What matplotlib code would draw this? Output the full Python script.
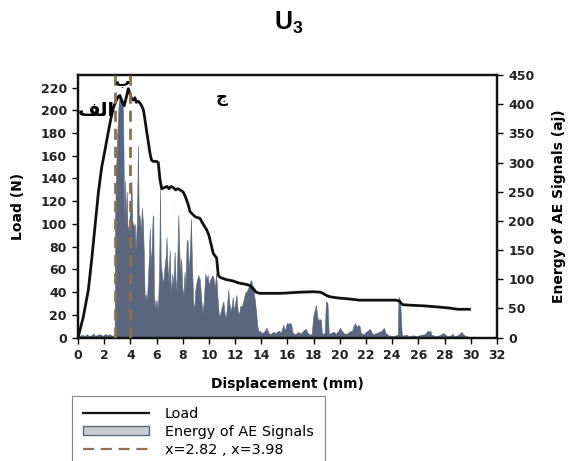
import matplotlib
matplotlib.use("Agg")
import matplotlib.pyplot as plt
from matplotlib.lines import Line2D
from matplotlib.patches import Patch

plt.rcParams["font.family"] = ["DejaVu Sans"]
plt.rcParams["mathtext.fontset"] = "custom"
plt.rcParams["mathtext.rm"] = "Liberation Sans"
plt.rcParams["mathtext.bf"] = "Liberation Sans:bold"

# Load-displacement curve
disp_load = [0, 0.4, 0.79, 1.04, 1.3, 1.55, 1.81, 2.06, 2.3, 2.5, 2.7, 2.9, 3.08, 3.2, 3.35,
             3.53, 3.7, 3.84, 3.95, 4.1, 4.22, 4.35, 4.45, 4.6, 4.75, 4.86, 5.0, 5.11,
             5.25, 5.37, 5.5, 5.62, 5.75, 6.0, 6.13, 6.25, 6.39, 6.6, 6.8, 6.95, 7.1,
             7.28, 7.45, 7.6, 7.8, 8.04, 8.2, 8.42, 8.55, 8.8, 9.0, 9.31, 9.5, 9.82,
             10.0, 10.33, 10.59, 10.71, 10.85, 11.1, 11.35, 11.8, 12.3, 12.8, 13.1,
             13.4, 13.6, 13.89, 14.5, 15.5, 16.9, 17.96, 18.5, 18.7, 19.0, 19.24, 19.8,
             20.76, 21.5, 22.5, 23.5, 24.3, 24.55, 24.8, 25.5, 26.4, 27.5, 28.4, 29.0, 29.9]
load = [0, 18, 42, 68, 98, 127, 150, 165, 180, 192, 202, 208, 212, 213, 208,
        204, 212, 219, 215, 210, 209, 211, 207, 208, 206, 204, 200, 192,
        181, 172, 162, 156, 155, 155, 154, 140, 131, 132, 133, 131, 133,
        132, 130, 131, 130, 128, 124, 117, 111, 108, 106, 105, 101, 95,
        90, 74, 70, 55, 53, 52, 51, 50, 48, 47, 46,
        43, 40, 39, 39, 39, 40, 40.4, 40, 39, 37, 36, 35,
        34, 33, 33, 33, 33, 32, 29, 28.5, 28, 27, 26, 25, 25]

# Acoustic emission energy
disp_energy = [0.0, 0.1, 0.3, 0.5, 0.7, 0.8, 1.0, 1.2, 1.3, 1.5, 1.7, 1.9, 2.1, 2.2, 2.4,
               2.6, 2.75, 2.8, 2.83, 2.9, 3.0, 3.1, 3.2, 3.3, 3.38, 3.45, 3.5, 3.55, 3.6,
               3.65, 3.72, 3.78, 3.85, 3.92, 4.0, 4.08, 4.15, 4.25, 4.33, 4.4, 4.5, 4.58,
               4.64, 4.7, 4.8, 4.88, 4.95, 5.02, 5.1, 5.18, 5.26, 5.34, 5.42, 5.48, 5.55,
               5.62, 5.7, 5.75, 5.8, 5.9, 6.0, 6.1, 6.2, 6.26, 6.32, 6.4, 6.5, 6.6, 6.7,
               6.76, 6.82, 6.9, 7.0, 7.06, 7.12, 7.2, 7.3, 7.38, 7.45, 7.52, 7.6, 7.66,
               7.72, 7.8, 7.88, 7.95, 8.05, 8.14, 8.22, 8.3, 8.37, 8.45, 8.55, 8.63, 8.7,
               8.8, 8.88, 8.95, 9.05, 9.18, 9.3, 9.4, 9.5, 9.6, 9.72, 9.8, 9.9, 10.0,
               10.1, 10.25, 10.35, 10.45, 10.55, 10.65, 10.76, 10.85, 10.95, 11.1, 11.2,
               11.3, 11.4, 11.48, 11.55, 11.65, 11.75, 11.82, 11.9, 12.0, 12.1, 12.2,
               12.3, 12.4, 12.5, 12.6, 12.75, 12.9, 13.05, 13.2, 13.3, 13.4, 13.5, 13.6,
               13.7, 13.8, 13.9, 14.0, 14.2, 14.4, 14.55, 14.7, 14.9, 15.1, 15.3, 15.5,
               15.67, 15.8, 15.95, 16.1, 16.25, 16.4, 16.6, 16.8, 17.0, 17.2, 17.4,
               17.55, 17.7, 17.85, 17.96, 18.05, 18.17, 18.28, 18.35, 18.45, 18.55,
               18.62, 18.75, 18.85, 18.93, 19.05, 19.15, 19.3, 19.5, 19.7, 19.9, 20.0,
               20.2, 20.4, 20.6, 20.8, 20.9, 21.05, 21.15, 21.3, 21.4, 21.5, 21.6, 21.8,
               22.0, 22.3, 22.5, 22.8, 23.0, 23.2, 23.35, 23.5, 23.7, 24.0, 24.3, 24.42,
               24.48, 24.6, 24.72, 24.8, 25.0, 25.3, 25.6, 25.9, 26.2, 26.5, 26.7, 26.8,
               26.9, 27.0, 27.3, 27.6, 27.9, 28.0, 28.2, 28.5, 28.6, 28.7, 29.0, 29.3,
               29.4, 29.6, 29.8, 30.0]
energy = [0, 3, 5, 3, 6, 3, 4, 7, 3, 5, 6, 3, 7, 4, 6,
          3, 5, 5, 200, 280, 350, 400, 415, 405, 410, 380, 250, 200, 270,
          190, 250, 185, 190, 200, 230, 268, 200, 190, 195, 150, 200, 330,
          200, 210, 180, 222, 200, 150, 60, 75, 60, 100, 140, 188, 120,
          150, 205, 210, 75, 50, 65, 45, 120, 255, 125, 110, 90, 120, 140,
          172, 130, 96, 150, 100, 75, 110, 90, 147, 100, 79, 150, 210,
          160, 110, 135, 90, 70, 113, 85, 167, 167, 110, 153, 204, 127,
          60, 47, 80, 95, 107, 100, 70, 42, 60, 110, 100, 107, 90,
          100, 107, 102, 85, 110, 70, 36, 40, 50, 62, 40,
          35, 60, 83, 60, 45, 55, 70, 45, 60, 73, 45,
          40, 55, 53, 60, 76, 80, 88, 99, 92, 80, 65, 45,
          19, 10, 12, 8, 10, 17, 8, 6, 10, 8, 12, 9,
          22, 12, 25, 24, 25, 8, 6, 10, 7, 12, 15,
          8, 5, 7, 36, 45, 56, 35, 30, 32, 30,
          8, 6, 10, 62, 60, 6, 8, 10, 7, 12, 17,
          10, 6, 8, 12, 10, 20, 25, 18, 22, 20, 8, 6,
          10, 15, 6, 8, 10, 12, 17, 8, 4, 3, 4, 5,
          70, 64, 8, 3, 5, 3, 4, 3, 5, 6, 12, 10,
          12, 5, 3, 4, 8, 6, 3, 4, 7, 3, 4, 10,
          6, 3, 2, 0]

marker_x = [2.82, 3.98]
x_ticks = list(range(0, 33, 2))
load_ticks = list(range(0, 221, 20))
energy_ticks = list(range(0, 451, 50))

fig = plt.figure(figsize=(5.71, 4.61), dpi=100)
ax = fig.add_axes([0.1366, 0.2675, 0.7338, 0.5698])
ax2 = ax.twinx()

fill_color = "#59667e"
ax2.fill_between(disp_energy, energy, 0, color=fill_color, linewidth=0.4,
                 edgecolor=fill_color, zorder=1)
ax2.set_ylim(0, 450)
ax2.set_yticks(energy_ticks)

ax.set_zorder(ax2.get_zorder() + 1)
ax.patch.set_visible(False)
ax.plot(disp_load, load, color="#111111", linewidth=2.0, zorder=3)
for xv in marker_x:
    ax.axvline(xv, color="#8c7155", linewidth=2.0, linestyle=(0, (4, 2.5)), zorder=4)

ax.set_xlim(0, 32)
ax.set_ylim(0, 231)
ax.set_xticks(x_ticks)
ax.set_yticks(load_ticks)

for a in (ax, ax2):
    for sp in a.spines.values():
        sp.set_linewidth(1.6)
        sp.set_color("#111111")
    a.tick_params(direction="out", length=4, width=1.0, labelsize=9, pad=4)
    for lbl in a.get_xticklabels() + a.get_yticklabels():
        lbl.set_fontweight("bold")
        lbl.set_color("#222222")

ax.set_xlabel("Displacement (mm)", fontsize=10, fontweight="bold", labelpad=11)
ax.set_ylabel("Load (N)", fontsize=10, fontweight="bold", labelpad=11)
ax2.set_ylabel("Energy of AE Signals (aj)", fontsize=10, fontweight="bold", labelpad=13)

# Region labels (Arabic, written in presentation forms for display)
ax.text(0.0, 200, "\uFED2\uFEDF\uFE8D", family="DejaVu Sans", fontsize=14,
        fontweight="bold", ha="left", va="center", zorder=6)
ax.text(3.4, 225, "\uFE8F", family="DejaVu Sans", fontsize=11,
        fontweight="bold", ha="center", va="center", zorder=6)
ax.text(11.0, 212, "\u062C", family="DejaVu Sans", fontsize=12,
        fontweight="bold", ha="center", va="center", zorder=6)

fig.text(0.505, 0.95, r"$\mathbf{U}_{\mathbf{3}}$", fontsize=18, ha="center", va="center")

handles = [Line2D([], [], color="#111111", linewidth=1.6),
           Patch(facecolor="#c9cbd2", edgecolor="#59667e", linewidth=1.0),
           Line2D([], [], color="#8c7155", linewidth=1.6, linestyle=(0, (5, 3)))]
labels = ["Load", "Energy of AE Signals", "x=2.82 , x=3.98"]
leg = fig.legend(handles, labels, loc="upper left", bbox_to_anchor=(0.126, 0.141),
                 borderaxespad=0, frameon=True, fancybox=False, fontsize=10.4,
                 handlelength=4.6, handleheight=0.6, labelspacing=0.28, borderpad=0.75,
                 handletextpad=1.1)
leg.get_frame().set_edgecolor("#666666")
leg.get_frame().set_linewidth(0.8)

fig.savefig("out.png", dpi=100)
